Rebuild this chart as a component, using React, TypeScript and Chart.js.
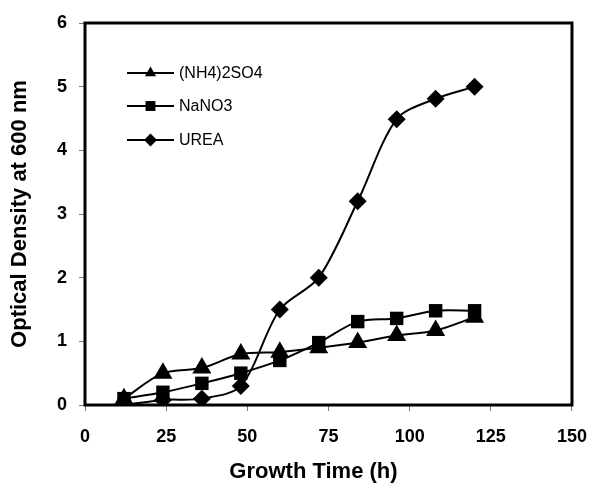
import React, { useEffect, useRef } from 'react';
import { Chart, registerables } from 'chart.js';

Chart.register(...registerables);

// ---- data ----
const timesH = [12, 24, 36, 48, 60, 72, 84, 96, 108, 120];
const ammoniumSulfate = [0.1, 0.5, 0.58, 0.8, 0.83, 0.9, 0.98, 1.09, 1.17, 1.38];
const sodiumNitrate = [0.1, 0.2, 0.34, 0.5, 0.7, 0.98, 1.31, 1.36, 1.48, 1.48];
const urea = [0.0, 0.08, 0.1, 0.3, 1.5, 2.0, 3.2, 4.49, 4.81, 5.0];
const seriesLabels = ['(NH4)2SO4', 'NaNO3', 'UREA'];
const seriesMarkers = ['triangle', 'rect', 'rectRot'];
const xTicks = [0, 25, 50, 75, 100, 125, 150];
const yTicks = [0, 1, 2, 3, 4, 5, 6];
const xTitle = 'Growth Time (h)';
const yTitle = 'Optical Density at 600 nm';

const FONT = '"Liberation Sans", Arial, Helvetica, sans-serif';

function drawMarker(ctx: CanvasRenderingContext2D, style: string, x: number, y: number, r: number) {
  ctx.beginPath();
  if (style === 'triangle') {
    ctx.moveTo(x, y - r);
    ctx.lineTo(x + r * Math.sin((2 * Math.PI) / 3), y - r * Math.cos((2 * Math.PI) / 3));
    ctx.lineTo(x + r * Math.sin((4 * Math.PI) / 3), y - r * Math.cos((4 * Math.PI) / 3));
  } else if (style === 'rect') {
    const s = r * Math.SQRT1_2;
    ctx.rect(x - s, y - s, 2 * s, 2 * s);
  } else {
    ctx.moveTo(x - r, y);
    ctx.lineTo(x, y - r);
    ctx.lineTo(x + r, y);
    ctx.lineTo(x, y + r);
  }
  ctx.closePath();
  ctx.fill();
}

const framePlugin = {
  id: 'frameAndLegend',
  afterDraw(chart: any) {
    const { ctx, chartArea } = chart;
    const { left, top, right, bottom } = chartArea;
    ctx.save();
    // plot frame
    ctx.strokeStyle = '#000';
    ctx.lineWidth = 3;
    ctx.strokeRect(left, top, right - left, bottom - top);

    // legend inside plot area
    const rows = [50, 83, 117];
    ctx.fillStyle = '#000';
    ctx.font = `16px ${FONT}`;
    ctx.textBaseline = 'middle';
    ctx.textAlign = 'left';
    seriesLabels.forEach((label, i) => {
      const y = top + rows[i];
      const x0 = left + 42;
      const x1 = left + 89;
      ctx.lineWidth = 2;
      ctx.beginPath();
      ctx.moveTo(x0, y);
      ctx.lineTo(x1, y);
      ctx.stroke();
      const r = seriesMarkers[i] === 'triangle' ? 6.5 : seriesMarkers[i] === 'rect' ? 7 : 6.5;
      drawMarker(ctx, seriesMarkers[i], (x0 + x1) / 2, y, r);
      ctx.fillText(label, left + 94, y + 1);
    });

    // x axis title
    ctx.font = `bold 22px ${FONT}`;
    ctx.textAlign = 'center';
    ctx.textBaseline = 'middle';
    ctx.fillText(xTitle, (left + right) / 2 - 15, 472);
    ctx.restore();
  },
};

export default function App() {
  const canvasRef = useRef<HTMLCanvasElement | null>(null);

  useEffect(() => {
    document.body.style.margin = '0';
    const canvas = canvasRef.current;
    if (!canvas) return;

    const mk = (vals: number[]) => timesH.map((t, i) => ({ x: t, y: vals[i] }));
    const seriesData = [ammoniumSulfate, sodiumNitrate, urea];
    const radii = [11, 9.5, 9];

    const chart = new Chart(canvas, {
      type: 'line',
      data: {
        datasets: seriesLabels.map((label, i) => ({
          label,
          data: mk(seriesData[i]),
          borderColor: '#000',
          backgroundColor: '#000',
          borderWidth: 2,
          pointStyle: seriesMarkers[i] as any,
          pointRadius: radii[i],
          pointBackgroundColor: '#000',
          pointBorderColor: '#000',
          pointBorderWidth: 0,
          tension: 0.3,
          fill: false,
        })),
      },
      options: {
        responsive: false,
        animation: false,
        events: [],
        layout: { padding: { top: 23, right: 19, left: 0, bottom: 0 } },
        plugins: {
          legend: { display: false },
          tooltip: { enabled: false },
          title: { display: false },
        },
        scales: {
          x: {
            type: 'linear',
            min: 0,
            max: 150,
            afterBuildTicks: (s: any) => {
              s.ticks = xTicks.map((v) => ({ value: v }));
            },
            afterFit: (s: any) => {
              s.height = 79;
            },
            ticks: {
              color: '#000',
              padding: 15,
              maxRotation: 0,
              font: { family: FONT, size: 18, weight: 'bold' },
            },
            grid: {
              display: true,
              drawOnChartArea: false,
              drawTicks: true,
              tickLength: 6,
              color: '#777',
              lineWidth: 1,
            },
            border: { display: false },
          },
          y: {
            type: 'linear',
            min: 0,
            max: 6,
            afterBuildTicks: (s: any) => {
              s.ticks = yTicks.map((v) => ({ value: v }));
            },
            afterFit: (s: any) => {
              s.width = 85;
            },
            ticks: {
              color: '#000',
              padding: 12,
              font: { family: FONT, size: 18, weight: 'bold' },
            },
            grid: {
              display: true,
              drawOnChartArea: false,
              drawTicks: true,
              tickLength: 6,
              color: '#777',
              lineWidth: 1,
            },
            border: { display: false },
            title: {
              display: true,
              text: yTitle,
              color: '#000',
              font: { family: FONT, size: 22, weight: 'bold' },
              padding: { top: 7, bottom: 0 },
            },
          },
        },
      },
      plugins: [framePlugin],
    });

    return () => {
      chart.destroy();
    };
  }, []);

  return (
    <div style={{ width: 602, height: 484 }}>
      <canvas ref={canvasRef} width={602} height={484} style={{ display: 'block' }} />
    </div>
  );
}
